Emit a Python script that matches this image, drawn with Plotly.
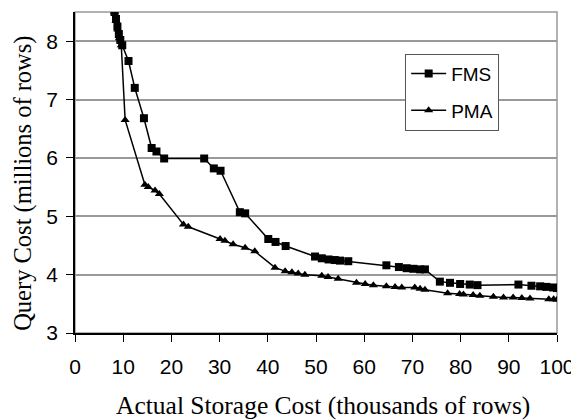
import plotly.graph_objects as go

fms_x = [8.2, 8.5, 8.8, 9.1, 9.4, 9.8, 11.1, 12.4, 14.3, 15.9, 16.9, 18.5, 26.8, 28.8, 30.2,
         34.2, 35.3, 40.1, 41.6, 43.7, 49.8, 51.2, 52.6, 53.9, 55.0, 56.7, 64.6, 67.2, 68.8,
         70.2, 71.6, 72.6, 75.7, 77.8, 79.9, 81.9, 83.5, 92.0, 94.7, 96.5, 97.8, 99.2, 100.0]
fms_y = [8.5, 8.38, 8.25, 8.12, 8.02, 7.93, 7.66, 7.20, 6.68, 6.17, 6.11, 5.99, 5.99, 5.82, 5.78,
         5.07, 5.05, 4.61, 4.56, 4.49, 4.31, 4.28, 4.26, 4.25, 4.24, 4.23, 4.16, 4.13, 4.11,
         4.10, 4.09, 4.09, 3.88, 3.86, 3.84, 3.83, 3.82, 3.83, 3.81, 3.80, 3.79, 3.78, 3.77]

pma_x = [8.2, 8.5, 8.9, 9.2, 9.6, 10.4, 14.5, 15.2, 16.6, 17.5, 22.5, 23.5, 30.1, 31.1, 32.8,
         35.3, 37.3, 41.5, 43.6, 45.0, 46.3, 47.7, 51.2, 52.5, 54.6, 58.4, 60.2, 61.9, 64.6,
         66.4, 67.8, 70.5, 71.6, 72.6, 77.3, 79.8, 80.6, 82.6, 84.0, 86.8, 88.9, 90.9, 92.7,
         94.4, 98.3, 99.3, 100.0]
pma_y = [8.5, 8.35, 8.2, 8.05, 7.93, 6.65, 5.54, 5.50, 5.44, 5.38, 4.86, 4.82, 4.61, 4.58, 4.52,
         4.46, 4.40, 4.12, 4.06, 4.04, 4.02, 4.00, 3.98, 3.96, 3.93, 3.86, 3.84, 3.82, 3.80,
         3.79, 3.78, 3.78, 3.76, 3.74, 3.68, 3.67, 3.66, 3.65, 3.64, 3.62, 3.61, 3.61, 3.60,
         3.59, 3.58, 3.58, 3.57]

x_ticks = [0, 10, 20, 30, 40, 50, 60, 70, 80, 90, 100]
y_ticks = [3, 4, 5, 6, 7, 8]

x_title = "Actual Storage Cost (thousands of rows)"
y_title = "Query Cost (millions of rows)"

serif = "Liberation Serif, Times New Roman, serif"

fig = go.Figure()
fig.add_trace(go.Scatter(x=fms_x, y=fms_y, name="FMS", mode="lines+markers", legendgroup="a",
                         line=dict(color="black", width=1.5),
                         marker=dict(symbol="square", size=8, color="black")))
fig.add_trace(go.Scatter(x=pma_x, y=pma_y, name="PMA", mode="lines+markers", legendgroup="b",
                         line=dict(color="black", width=1.5),
                         marker=dict(symbol="triangle-up", size=8, color="black")))

# the page body has an 8px margin, so the figure is 8px smaller and shifted margins
fig.update_layout(
    width=571, height=412,
    margin=dict(l=67, r=22, t=4, b=87),
    paper_bgcolor="white", plot_bgcolor="white",
    font=dict(family="Liberation Sans, Arial", size=21, color="black"),
    showlegend=True,
    legend=dict(x=0.685, y=0.87, xanchor="left", yanchor="top",
                bgcolor="white", bordercolor="#555", borderwidth=1, itemwidth=35,
                font=dict(size=19), traceorder="grouped", tracegroupgap=9),
    shapes=[dict(type="rect", xref="paper", yref="paper", x0=0, x1=1, y0=0, y1=1,
                 line=dict(color="#999", width=1.5), layer="below")],
    annotations=[
        dict(text=x_title, xref="paper", yref="paper", x=0.515, y=-0.227,
             xanchor="center", yanchor="middle", showarrow=False,
             font=dict(family=serif, size=25.5)),
        dict(text=y_title, xref="paper", yref="paper", x=-0.107, y=0.466,
             xanchor="center", yanchor="middle", showarrow=False, textangle=-90,
             font=dict(family=serif, size=24.5)),
    ],
)
fig.update_xaxes(range=[0, 100], tickvals=x_ticks, ticks="outside", ticklen=7,
                 tickcolor="black", showline=True, linecolor="black", linewidth=1.5,
                 showgrid=False, zeroline=False, ticklabelstandoff=7)
fig.update_yaxes(range=[3, 8.5], tickvals=y_ticks, ticks="outside", ticklen=7,
                 tickcolor="black", showline=True, linecolor="black", linewidth=1.5,
                 showgrid=True, gridcolor="#999", gridwidth=1.5, zeroline=False,
                 ticklabelstandoff=4)

fig.write_html("out.html")
